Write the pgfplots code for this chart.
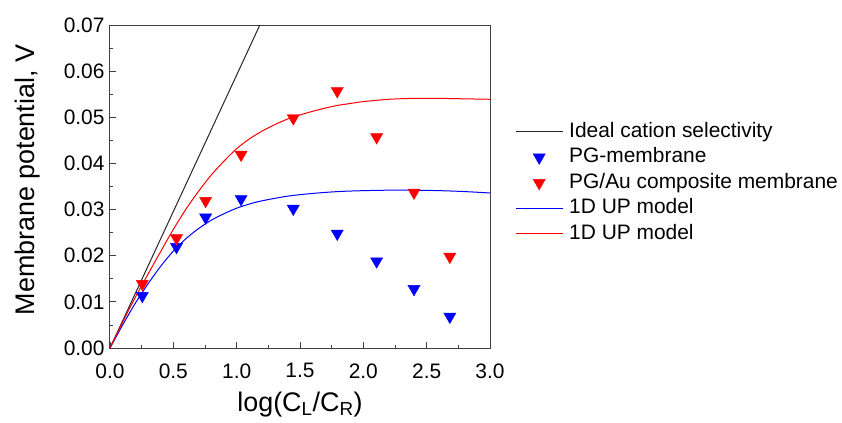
\documentclass[border=0pt]{standalone}
\usepackage{fontspec}
\setmainfont{Liberation Sans}
\usepackage{pgfplots}
\pgfplotsset{compat=1.18}
\definecolor{upblue}{RGB}{0,0,255}
\definecolor{upred}{RGB}{255,0,0}
\begin{document}
\begin{tikzpicture}
\begin{axis}[
  at={(0,0)}, anchor=south west,
  scale only axis, width=380bp, height=323bp,
  xmin=0, xmax=3, ymin=0, ymax=0.07,
  xtick={0,0.5,1,1.5,2,2.5,3},
  ytick={0,0.01,0.02,0.03,0.04,0.05,0.06,0.07},
  minor x tick num=1, minor y tick num=1,
  scaled y ticks=false,
  x tick label style={/pgf/number format/fixed,/pgf/number format/fixed zerofill,/pgf/number format/precision=1, yshift=-12bp},
  y tick label style={/pgf/number format/fixed,/pgf/number format/fixed zerofill,/pgf/number format/precision=2, xshift=-2bp},
  /pgf/number format/assume math mode=true,
  tick label style={font=\fontsize{21}{21}\selectfont},
  label style={font=\fontsize{27}{27}\selectfont},
  tick align=inside, tick pos=left,
  major tick length=6bp, minor tick length=3.5bp,
  axis line style={black!75, line width=1bp},
  every tick/.style={black!75, line width=0.8bp},
  xlabel={log(C\textsubscript{L}/C\textsubscript{R})},
  ylabel={Membrane potential, V},
  xlabel style={at={(axis description cs:0.5,-0.175)}, anchor=center},
  ylabel style={at={(axis description cs:-0.218,0.52)}, anchor=center},
  legend style={draw=none, fill=none, at={(axis description cs:1.058,0.706)}, anchor=north west,
    font=\fontsize{21}{21}\selectfont, row sep=6bp, column sep=6bp,
    nodes={inner sep=0bp, text height=15bp, text depth=4.5bp}},
  legend cell align=left,
  legend image code/.code={\draw[mark repeat=2,mark phase=2,#1] plot coordinates {(0bp,0bp) (23.5bp,0bp) (47bp,0bp)};},
]
% ideal cation selectivity (Nernst slope)
\addplot[black!85, line width=1bp] coordinates {(0,0) (1.2,0.0710)};
\addlegendentry{Ideal cation selectivity}

\addplot[only marks, mark=triangle*, mark size=7bp, mark options={rotate=180, fill=upblue, draw=upblue}] coordinates {
  (0.255,0.0113) (0.525,0.0219) (0.755,0.0283) (1.035,0.0323) (1.447,0.0302)
  (1.794,0.0248) (2.105,0.0188) (2.400,0.0128) (2.683,0.0068)
};
\addlegendentry{PG-membrane}

\addplot[only marks, mark=triangle*, mark size=7bp, mark options={rotate=180, fill=upred, draw=upred}] coordinates {
  (0.255,0.0139) (0.525,0.0238) (0.755,0.0319) (1.035,0.0419) (1.447,0.0498)
  (1.794,0.0557) (2.105,0.0457) (2.400,0.0337) (2.683,0.0198)
};
\addlegendentry{PG/Au composite membrane}

\addplot[upblue, line width=1bp, smooth] coordinates {
  (0,0) (0.1,0.0050) (0.2,0.0097) (0.3,0.0139) (0.4,0.0177) (0.5,0.0210)
  (0.6,0.0237) (0.7,0.0259) (0.8,0.0277) (0.9,0.0291) (1.0,0.0303) (1.1,0.0312)
  (1.2,0.0319) (1.4,0.0329) (1.6,0.0335) (1.8,0.0339) (2.0,0.0341) (2.2,0.0342)
  (2.4,0.0342) (2.6,0.0341) (2.8,0.0339) (3.0,0.0336)
};
\addlegendentry{1D UP model}

\addplot[upred, line width=1bp, smooth] coordinates {
  (0,0) (0.1,0.0056) (0.2,0.0110) (0.3,0.0160) (0.4,0.0209) (0.5,0.0257)
  (0.6,0.0301) (0.7,0.0340) (0.8,0.0375) (0.9,0.0405) (1.0,0.0432) (1.1,0.0453)
  (1.2,0.0470) (1.3,0.0484) (1.4,0.0496) (1.5,0.0505) (1.6,0.0513) (1.7,0.0520)
  (1.8,0.0526) (1.9,0.0530) (2.0,0.0534) (2.2,0.0539) (2.4,0.0541) (2.6,0.0541)
  (2.8,0.0540) (3.0,0.0539)
};
\addlegendentry{1D UP model}
\end{axis}
\pgfresetboundingbox
\path[use as bounding box] (-110bp,-75bp) rectangle (732bp,348bp);
\end{tikzpicture}
\end{document}
